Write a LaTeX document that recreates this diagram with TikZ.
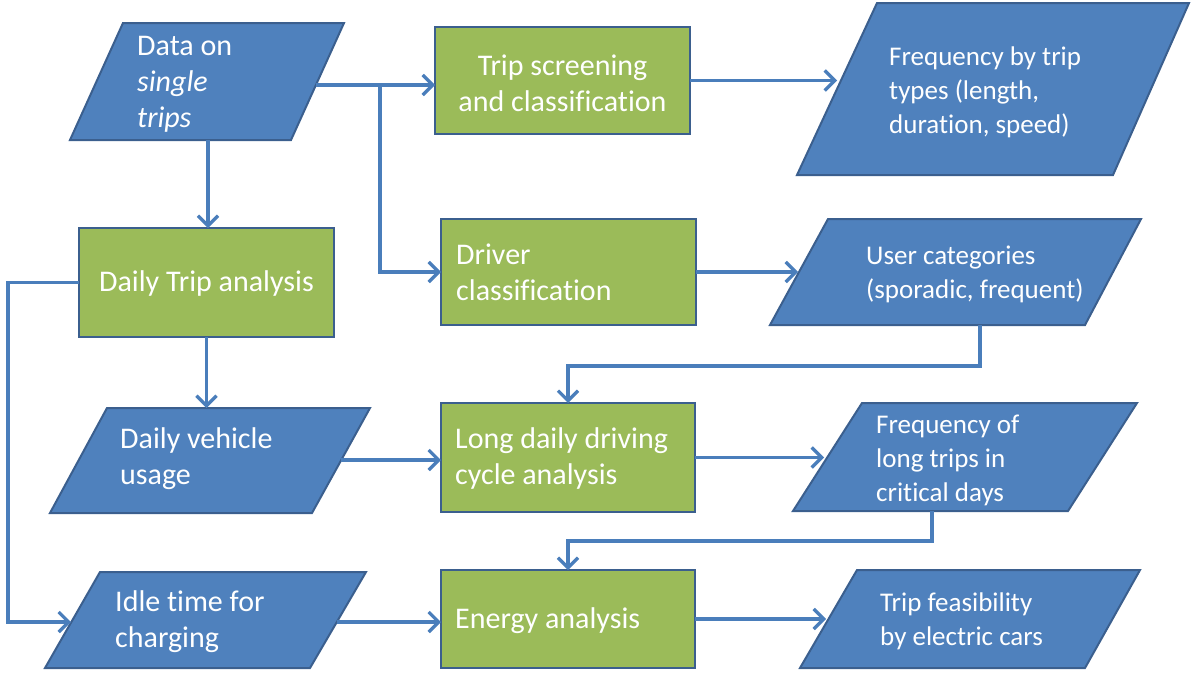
\documentclass[tikz,border=0pt]{standalone}
\usepackage{fontspec}
\setmainfont{Carlito}[Ligatures={NoCommon},Contextuals={NoAlternate}]
\usetikzlibrary{arrows.meta}
\definecolor{pblue}{HTML}{4F81BD}
\definecolor{pgreen}{HTML}{9BBB59}
\definecolor{pedge}{HTML}{3B5F8E}
\definecolor{pline}{HTML}{4A7EBB}
\begin{document}
\begin{tikzpicture}[x=1pt,y=-1pt,
  para/.style={fill=pblue,draw=pedge,line width=2pt,line join=miter},
  gbox/.style={rectangle,fill=pgreen,draw=pedge,line width=2pt,outer sep=0pt,inner sep=0pt},
  bigtxt/.style={text=white,font=\fontsize{30}{36}\selectfont,inner sep=0pt},
  smalltxt/.style={text=white,font=\fontsize{27}{34}\selectfont,inner sep=0pt},
  conn/.style={draw=pline,line width=3.3pt,-{Straight Barb[length=10pt,width=20pt]}},
  plain/.style={draw=pline,line width=3.3pt}]
\useasboundingbox (0,0) rectangle (1191,672);

% parallelograms (data shapes)
\draw[para] (123,23) -- (344,23) -- (291,140) -- (70,140) -- cycle;
\node[bigtxt,anchor=west,align=left] (data) at (137,84) {Data on\\\textit{single}\\\textit{trips}};
\coordinate (dataE) at (316,85);
\coordinate (dataS) at (208,140);

\draw[para] (877,3) -- (1189,3) -- (1113,175) -- (797,175) -- cycle;
\node[smalltxt,anchor=west,align=left] (freq) at (889,92) {Frequency by trip\\types (length,\\duration, speed)};
\coordinate (freqW) at (837,83);

\draw[para] (828,219) -- (1141,219) -- (1085,325) -- (770,325) -- cycle;
\node[smalltxt,anchor=west,align=left] (user) at (866,274) {User categories\\(sporadic, frequent)};
\coordinate (userW) at (798,272);
\coordinate (userS) at (980,325);
\coordinate (userJ) at (980,366);

\draw[para] (107,408) -- (370,408) -- (312,513) -- (50,513) -- cycle;
\node[bigtxt,anchor=west,align=left] (veh) at (120,459) {Daily vehicle\\usage};
\coordinate (vehN) at (206.5,408);
\coordinate (vehE) at (341,460);

\draw[para] (862,403) -- (1137,403) -- (1068,511) -- (793,511) -- cycle;
\node[smalltxt,anchor=west,align=left] (longf) at (876,460) {Frequency of\\long trips in\\critical days};
\coordinate (longfW) at (824,459);
\coordinate (longfS) at (932,511);
\coordinate (longfJ) at (932,541);

\draw[para] (100,572) -- (366,572) -- (310,668) -- (45,668) -- cycle;
\node[bigtxt,anchor=west,align=left] (idle) at (115,622) {Idle time for\\charging};
\coordinate (idleW) at (71,622);
\coordinate (idleE) at (337,622);

\draw[para] (857,570) -- (1140,570) -- (1085,668) -- (800,668) -- cycle;
\node[smalltxt,anchor=west,align=left] (feas) at (880,621) {Trip feasibility\\by electric cars};
\coordinate (feasW) at (826,620);

% process boxes
\node[gbox,minimum width=255,minimum height=107] (tsc) at (562.5,80.5) {};
\node[bigtxt,align=center] (tsct) at (562.5,83) {Trip screening\\and classification};

\node[gbox,minimum width=255,minimum height=109] (dta) at (206.5,282.5) {};
\node[bigtxt] (dtat) at (206.5,283) {Daily Trip analysis};

\node[gbox,minimum width=255,minimum height=106] (drv) at (568.5,272) {};
\node[bigtxt,anchor=west,align=left] (drvt) at (456,272.5) {Driver\\classification};

\node[gbox,minimum width=254,minimum height=109] (lng) at (568,457.5) {};
\node[bigtxt,anchor=west,align=left] (lngt) at (455,458.5) {Long daily driving\\cycle analysis};

\node[gbox,minimum width=254,minimum height=98] (eng) at (568,619) {};
\node[bigtxt,anchor=west] (engt) at (455,621) {Energy analysis};

% connectors
\coordinate (br) at (380,85);
\coordinate (lft) at (8,282.5);
\draw[conn] (dataE) -- (tsc.west |- dataE);
\draw[conn] (br) |- (drv.west);
\draw[conn] (dataS) -- (dataS |- dta.north);
\draw[conn] (tsc.east) -- (freqW |- tsc.east);
\draw[conn] (drv.east) -- (userW |- drv.east);
\draw[conn] (userS) -- (userJ) -| (lng.north);
\draw[conn] (dta.south) -- (vehN);
\draw[conn] (vehE) -- (lng.west |- vehE);
\draw[conn] (lng.east) -- (longfW |- lng.east);
\draw[conn] (longfS) -- (longfJ) -| (eng.north);
\draw[conn] (dta.west) -- (lft) |- (idleW);
\draw[conn] (idleE) -- (eng.west |- idleE);
\draw[conn] (eng.east) -- (feasW |- eng.east);
\end{tikzpicture}
\end{document}
